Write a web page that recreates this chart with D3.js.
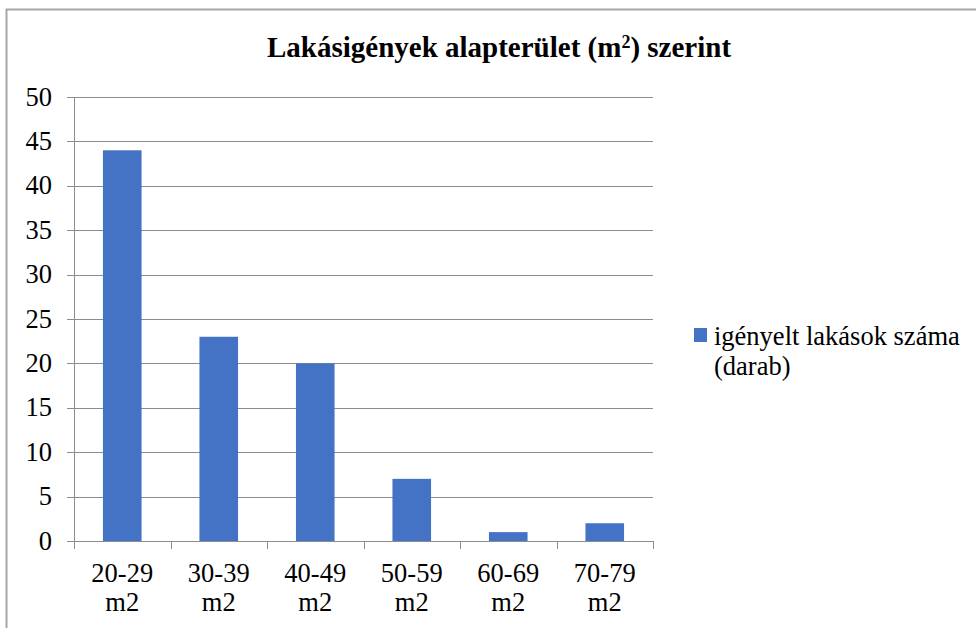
<!DOCTYPE html>
<html>
<head>
<meta charset="utf-8">
<script src="https://cdn.jsdelivr.net/npm/d3@7"></script>
<style>
  #chart text, #chart tspan { font-family: 'Liberation Serif', monospace !important; }
</style>
</head>
<body style="margin:0">
<svg id="chart" width="976" height="628" font-family="Liberation Serif"></svg>
<script>
// chart data
var categories = ["20-29 m2", "30-39 m2", "40-49 m2", "50-59 m2", "60-69 m2", "70-79 m2"];
var values = [44, 23, 20, 7, 1, 2];
var yTicks = [0, 5, 10, 15, 20, 25, 30, 35, 40, 45, 50];
var legendLines = ["igényelt lakások száma", "(darab)"];

var FONT = "'Liberation Serif', monospace";
var svg = d3.select('#chart');

// outer chart border (runs off the right and bottom of the picture)
svg.append('rect')
	.attr('x', 6.5).attr('y', 9.5)
	.attr('width', 1000).attr('height', 700)
	.attr('fill', 'none').attr('stroke', '#a6a6a6').attr('stroke-width', 2);

var pLeft = 74, pRight = 653, pTop = 97, pBottom = 541;

var x = d3.scaleBand().domain(categories).range([pLeft, pRight]).paddingInner(0.6).paddingOuter(0.3);
var xb = d3.scaleBand().domain(categories).range([pLeft, pRight]);
var y = d3.scaleLinear().domain([0, 50]).range([pBottom, pTop]);

// gridlines
svg.append('g').selectAll('line').data(yTicks).enter().append('line')
	.attr('x1', pLeft - 7).attr('x2', pRight)
	.attr('y1', function(d){ return Math.round(y(d)) + 0.5 })
	.attr('y2', function(d){ return Math.round(y(d)) + 0.5 })
	.attr('stroke', '#8c8c8c').attr('stroke-width', 1);

// y axis line
svg.append('line')
	.attr('x1', pLeft + 0.5).attr('x2', pLeft + 0.5)
	.attr('y1', pTop).attr('y2', pBottom)
	.attr('stroke', '#8c8c8c');

// y labels
svg.selectAll('text.ylab').data(yTicks).enter().append('text')
	.attr('class', 'ylab')
	.attr('x', 52)
	.attr('y', function(d){ return y(d) + 8.5 })
	.attr('text-anchor', 'end')
	.attr('font-family', 'Liberation Serif')
	.style('font-family', function(){ return FONT })
	.attr('font-size', '26.5px')
	.text(function(d){ return d });

// bars
svg.append('g').selectAll('rect').data(values).enter().append('rect')
	.attr('x', function(d, i){ return x(categories[i]) })
	.attr('width', x.bandwidth())
	.attr('y', function(d){ return y(d) })
	.attr('height', function(d){ return pBottom - y(d) })
	.attr('fill', '#4472c4');

// x axis line + category ticks
svg.append('line')
	.attr('x1', pLeft).attr('x2', pRight)
	.attr('y1', pBottom + 0.5).attr('y2', pBottom + 0.5)
	.attr('stroke', '#8c8c8c');
var bounds = categories.map(function(c){ return xb(c) }).concat([pRight]);
svg.append('g').selectAll('line').data(bounds).enter().append('line')
	.attr('x1', function(d){ return Math.round(d) + 0.5 })
	.attr('x2', function(d){ return Math.round(d) + 0.5 })
	.attr('y1', pBottom).attr('y2', pBottom + 8)
	.attr('stroke', '#8c8c8c');

// x labels on two lines
var xl = svg.selectAll('text.xlab').data(categories).enter().append('text')
	.attr('class', 'xlab')
	.attr('text-anchor', 'middle')
	.attr('font-family', 'Liberation Serif')
	.style('font-family', function(){ return FONT })
	.attr('font-size', '26.5px');
xl.append('tspan')
	.attr('x', function(d){ return xb(d) + xb.bandwidth() / 2 })
	.attr('y', 582)
	.text(function(d){ return d.split(' ')[0] });
xl.append('tspan')
	.attr('x', function(d){ return xb(d) + xb.bandwidth() / 2 })
	.attr('y', 611)
	.text(function(d){ return d.split(' ')[1] });

// title
var title = svg.append('text')
	.attr('x', 499).attr('y', 57)
	.attr('text-anchor', 'middle')
	.attr('font-family', 'Liberation Serif')
	.style('font-family', function(){ return FONT })
	.attr('font-size', '29px')
	.attr('font-weight', 'bold');
title.append('tspan').text('Lakásigények alapterület (m');
title.append('tspan').attr('font-size', '18px').attr('dy', -9).text('2');
title.append('tspan').attr('dy', 9).text(') szerint');

// legend
svg.append('rect')
	.attr('x', 694).attr('y', 328)
	.attr('width', 13).attr('height', 14)
	.attr('fill', '#4472c4');
svg.selectAll('text.leg').data(legendLines).enter().append('text')
	.attr('class', 'leg')
	.attr('x', 714)
	.attr('y', function(d, i){ return 345 + i * 30 })
	.attr('font-family', 'Liberation Serif')
	.style('font-family', function(){ return FONT })
	.attr('font-size', '26.5px')
	.text(function(d){ return d });
</script>
</body>
</html>
